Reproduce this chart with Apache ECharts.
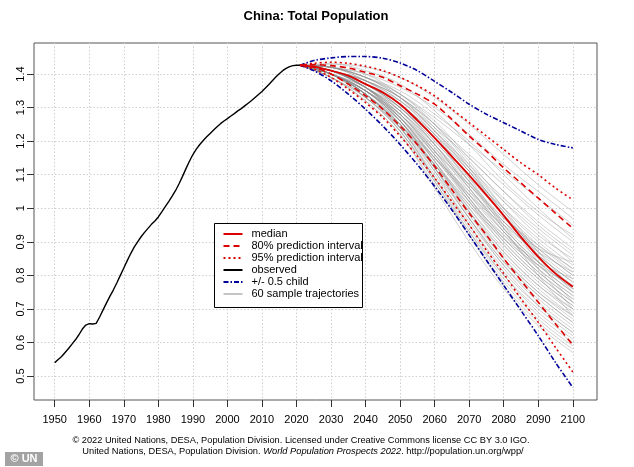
<!DOCTYPE html>
<html><head><meta charset="utf-8">
<script src="https://cdn.jsdelivr.net/npm/echarts@6/dist/echarts.min.js"></script>
<style>html,body{margin:0;padding:0;background:#fff}#c{width:634px;height:467px}</style>
</head><body><div id="c"></div>
<script>
// ---- tick labels ----
const xTicks = [1950,1960,1970,1980,1990,2000,2010,2020,2030,2040,2050,2060,2070,2080,2090,2100];
const yTicks = [0.5,0.6,0.7,0.8,0.9,1.0,1.1,1.2,1.3,1.4];

// ---- observed (billions), annual from 1950 ----
const obsStartYear = 1950;
const observed = [0.540,0.549,0.558,0.570,0.582,0.595,0.608,0.623,0.640,0.652,
  0.656,0.655,0.657,0.676,0.697,0.718,0.738,0.757,0.778,0.800,
  0.822,0.844,0.865,0.884,0.900,0.915,0.928,0.940,0.952,0.962,
  0.974,0.989,1.005,1.020,1.036,1.053,1.073,1.095,1.118,1.140,
  1.160,1.176,1.190,1.202,1.213,1.223,1.233,1.243,1.252,1.260,
  1.267,1.275,1.282,1.290,1.297,1.305,1.313,1.321,1.330,1.339,
  1.348,1.358,1.369,1.380,1.391,1.401,1.410,1.417,1.422,1.425,
  1.426,1.426];

// ---- projections ----
const projYears = [2021,2025,2030,2035,2040,2045,2050,2055,2060,2065,2070,2075,2080,2085,2090,2095,2100];
const median = [1.426,1.422,1.410,1.395,1.370,1.345,1.310,1.262,1.210,1.154,1.098,1.039,0.978,0.914,0.855,0.805,0.766];
const pi80Up = [1.426,1.428,1.425,1.418,1.405,1.390,1.365,1.340,1.310,1.265,1.215,1.170,1.120,1.075,1.030,0.985,0.940];
const pi80Lo = [1.426,1.420,1.400,1.370,1.335,1.295,1.245,1.190,1.125,1.055,0.985,0.920,0.850,0.785,0.720,0.655,0.593];
const pi95Up = [1.426,1.432,1.435,1.432,1.423,1.410,1.390,1.365,1.335,1.295,1.255,1.215,1.175,1.135,1.100,1.060,1.025];
const pi95Lo = [1.426,1.415,1.390,1.355,1.315,1.270,1.215,1.155,1.090,1.020,0.950,0.875,0.805,0.730,0.660,0.585,0.512];
const halfUp = [1.426,1.440,1.448,1.452,1.452,1.447,1.433,1.410,1.378,1.345,1.310,1.280,1.255,1.230,1.205,1.190,1.180];
const halfLo = [1.426,1.410,1.380,1.340,1.295,1.245,1.190,1.130,1.065,0.995,0.920,0.845,0.770,0.695,0.620,0.540,0.466];

// ---- 60 sample trajectories (2021 start, then 2030..2100) ----
const sampleYears = [2021,2030,2040,2050,2060,2070,2080,2090,2100];
const sampleStart = 1.426;
const samples = [
 [1.43,1.42,1.39,1.33,1.25,1.16,1.07,0.99],
 [1.42,1.40,1.36,1.30,1.22,1.13,1.05,0.97],
 [1.42,1.39,1.34,1.27,1.19,1.11,1.03,0.95],
 [1.43,1.41,1.37,1.29,1.19,1.08,0.99,0.92],
 [1.42,1.39,1.35,1.28,1.20,1.10,1.00,0.91],
 [1.41,1.38,1.33,1.25,1.16,1.07,0.98,0.90],
 [1.42,1.40,1.34,1.26,1.15,1.05,0.96,0.88],
 [1.41,1.37,1.32,1.24,1.15,1.05,0.95,0.87],
 [1.42,1.39,1.33,1.23,1.13,1.03,0.94,0.86],
 [1.41,1.38,1.33,1.25,1.14,1.02,0.92,0.85],
 [1.41,1.37,1.31,1.22,1.12,1.02,0.93,0.84],
 [1.42,1.38,1.31,1.21,1.10,1.00,0.91,0.83],
 [1.41,1.38,1.32,1.23,1.12,1.00,0.90,0.82],
 [1.41,1.36,1.30,1.21,1.11,0.99,0.89,0.81],
 [1.42,1.39,1.33,1.23,1.11,0.98,0.88,0.80],
 [1.40,1.36,1.29,1.19,1.08,0.97,0.88,0.80],
 [1.41,1.37,1.30,1.20,1.09,0.98,0.87,0.79],
 [1.41,1.37,1.31,1.21,1.08,0.96,0.86,0.78],
 [1.40,1.35,1.28,1.18,1.07,0.96,0.86,0.78],
 [1.41,1.36,1.29,1.19,1.07,0.95,0.85,0.77],
 [1.41,1.37,1.30,1.19,1.06,0.94,0.84,0.76],
 [1.40,1.35,1.28,1.17,1.06,0.94,0.84,0.76],
 [1.41,1.36,1.29,1.18,1.05,0.93,0.83,0.75],
 [1.40,1.35,1.27,1.16,1.04,0.93,0.83,0.75],
 [1.41,1.37,1.30,1.19,1.06,0.93,0.82,0.74],
 [1.40,1.36,1.28,1.17,1.04,0.92,0.82,0.74],
 [1.41,1.36,1.28,1.16,1.03,0.91,0.81,0.73],
 [1.40,1.34,1.26,1.15,1.03,0.91,0.81,0.73],
 [1.41,1.37,1.29,1.17,1.03,0.90,0.80,0.72],
 [1.40,1.35,1.27,1.15,1.02,0.90,0.80,0.72],
 [1.41,1.36,1.28,1.16,1.02,0.89,0.79,0.71],
 [1.40,1.35,1.26,1.14,1.01,0.89,0.79,0.71],
 [1.40,1.34,1.25,1.13,1.00,0.88,0.78,0.70],
 [1.41,1.36,1.27,1.14,1.00,0.87,0.77,0.70],
 [1.40,1.35,1.26,1.13,0.99,0.87,0.77,0.69],
 [1.40,1.34,1.25,1.12,0.99,0.86,0.76,0.68],
 [1.41,1.36,1.27,1.14,0.99,0.85,0.75,0.68],
 [1.40,1.34,1.25,1.12,0.98,0.85,0.75,0.67],
 [1.40,1.35,1.26,1.12,0.97,0.84,0.74,0.66],
 [1.40,1.33,1.24,1.11,0.97,0.84,0.74,0.66],
 [1.41,1.36,1.26,1.12,0.97,0.83,0.73,0.65],
 [1.40,1.34,1.24,1.10,0.96,0.83,0.72,0.64],
 [1.40,1.35,1.25,1.11,0.95,0.82,0.71,0.63],
 [1.40,1.33,1.23,1.09,0.95,0.81,0.71,0.63],
 [1.40,1.34,1.24,1.09,0.94,0.80,0.70,0.62],
 [1.39,1.33,1.23,1.08,0.93,0.80,0.69,0.61],
 [1.40,1.34,1.24,1.09,0.93,0.79,0.68,0.60],
 [1.39,1.32,1.22,1.07,0.92,0.78,0.67,0.59],
 [1.40,1.34,1.23,1.08,0.92,0.77,0.66,0.58],
 [1.39,1.32,1.22,1.06,0.90,0.76,0.65,0.57],
 [1.41,1.37,1.31,1.22,1.11,0.99,0.86,0.75],
 [1.42,1.39,1.34,1.25,1.13,1.00,0.87,0.76],
 [1.40,1.35,1.27,1.17,1.07,0.97,0.89,0.82],
 [1.41,1.36,1.27,1.15,1.04,0.95,0.87,0.81],
 [1.42,1.38,1.32,1.22,1.09,0.95,0.82,0.70],
 [1.40,1.34,1.25,1.15,1.05,0.96,0.88,0.84],
 [1.41,1.38,1.33,1.24,1.12,0.98,0.84,0.72],
 [1.40,1.35,1.26,1.13,1.01,0.91,0.83,0.77],
 [1.39,1.33,1.24,1.13,1.02,0.92,0.84,0.79],
 [1.41,1.37,1.30,1.20,1.08,0.94,0.80,0.68]
];

// ---- legend labels ----
const legendNames = ['median','80% prediction interval','95% prediction interval','observed','+/- 0.5 child','60 sample trajectories'];

// ---- build ----
const FONT = '"Liberation Sans", Arial, Helvetica, sans-serif';
const RED = '#dd0000', BLUE = '#000099', GREY = 'rgba(140,140,140,0.5)';
const pair = (xs, ys) => xs.map((x, i) => [x, ys[i]]);
const series = [];
samples.forEach(row => {
  series.push({
    name: legendNames[5], type: 'line', symbol: 'none', smooth: 0.35, silent: true, z: 1,
    color: '#b0b0b0',
    lineStyle: { color: GREY, width: 0.8 },
    data: pair(sampleYears, [sampleStart].concat(row))
  });
});
series.push({ name: legendNames[3], type: 'line', symbol: 'none', z: 3, color: '#000',
  lineStyle: { color: '#000', width: 1.4 },
  data: observed.map((v, i) => [obsStartYear + i, v]) });
const proj = (name, ys, color, type, width) => ({
  name, type: 'line', symbol: 'none', smooth: 0.3, z: 4, color,
  lineStyle: { color, width, type }, data: pair(projYears, ys)
});
series.push(proj(legendNames[4], halfUp, BLUE, [5,2,1.5,2], 1.6));
series.push(proj(legendNames[4], halfLo, BLUE, [5,2,1.5,2], 1.6));
series.push(proj(legendNames[2], pi95Up, RED, [2,3], 1.6));
series.push(proj(legendNames[2], pi95Lo, RED, [2,3], 1.6));
series.push(proj(legendNames[1], pi80Up, RED, [6,4], 1.6));
series.push(proj(legendNames[1], pi80Lo, RED, [6,4], 1.6));
series.push(proj(legendNames[0], median, RED, 'solid', 1.8));

const chart = echarts.init(document.getElementById('c'), null, { renderer: 'canvas' });
chart.setOption({
  animation: false,
  backgroundColor: '#fff',
  textStyle: { fontFamily: FONT },
  title: {
    text: 'China: Total Population', left: 316, top: 10, padding: 0, textAlign: 'center',
    textStyle: { fontSize: 13, fontWeight: 'bold', color: '#000', fontFamily: FONT }
  },
  grid: { left: 34, top: 43, width: 563, height: 357, show: true, borderColor: '#555', borderWidth: 1, backgroundColor: 'transparent' },
  xAxis: {
    type: 'value', min: 1944, max: 2107,
    axisLine: { show: false },
    axisTick: { show: true, length: 7, inside: false, customValues: xTicks, lineStyle: { color: '#333' } },
    axisLabel: { customValues: xTicks, margin: 14, fontSize: 11, color: '#000', fontFamily: FONT, formatter: v => String(v) },
    splitLine: { show: true, lineStyle: { color: '#cfcfcf', type: [1.5, 2], width: 1 } }
  },
  yAxis: {
    type: 'value', min: 0.4286, max: 1.4924,
    axisLine: { show: false },
    axisTick: { show: true, length: 7, customValues: yTicks, lineStyle: { color: '#333' } },
    axisLabel: { customValues: yTicks, margin: 8, rotate: 90, fontSize: 11, color: '#000', fontFamily: FONT,
      formatter: v => String(Number(v.toFixed(1))) },
    splitLine: { show: true, lineStyle: { color: '#cfcfcf', type: [1.5, 2], width: 1 } }
  },
  legend: {
    data: legendNames, orient: 'vertical', left: 222.5, top: 228, padding: 0, z: 20,
    itemWidth: 19, itemHeight: 12, itemGap: 0, selectedMode: false,
    itemStyle: { opacity: 0 },
    textStyle: { fontSize: 11, lineHeight: 12, color: '#000', fontFamily: FONT, padding: [0, 0, 0, 4] }
  },
  graphic: [
    { type: 'rect', z: 10, shape: { x: 214.5, y: 223.5, width: 148, height: 84 },
      style: { fill: '#fff', stroke: '#000', lineWidth: 1 } },
    { type: 'text', x: 301, y: 440, z: 10,
      style: { text: '© 2022 United Nations, DESA, Population Division. Licensed under Creative Commons license CC BY 3.0 IGO.',
        font: '9.25px ' + FONT, fill: '#000', textAlign: 'center', textVerticalAlign: 'middle' } },
    { type: 'text', x: 303, y: 451, z: 10,
      style: { text: '{a|United Nations, DESA, Population Division. }{b|World Population Prospects 2022}{a|. http://population.un.org/wpp/}',
        textAlign: 'center', textVerticalAlign: 'middle',
        rich: { a: { fontSize: 9.3, fontFamily: FONT, fill: '#000' }, b: { fontSize: 9.3, fontFamily: FONT, fontStyle: 'italic', fill: '#000' } } } },
    { type: 'rect', z: 10, shape: { x: 5, y: 452, width: 38, height: 14 }, style: { fill: '#a3a3a3' } },
    { type: 'text', x: 24, y: 459, z: 11,
      style: { text: '© UN', font: 'bold 11px ' + FONT, fill: '#fff', textAlign: 'center', textVerticalAlign: 'middle' } }
  ],
  series
});
</script></body></html>
